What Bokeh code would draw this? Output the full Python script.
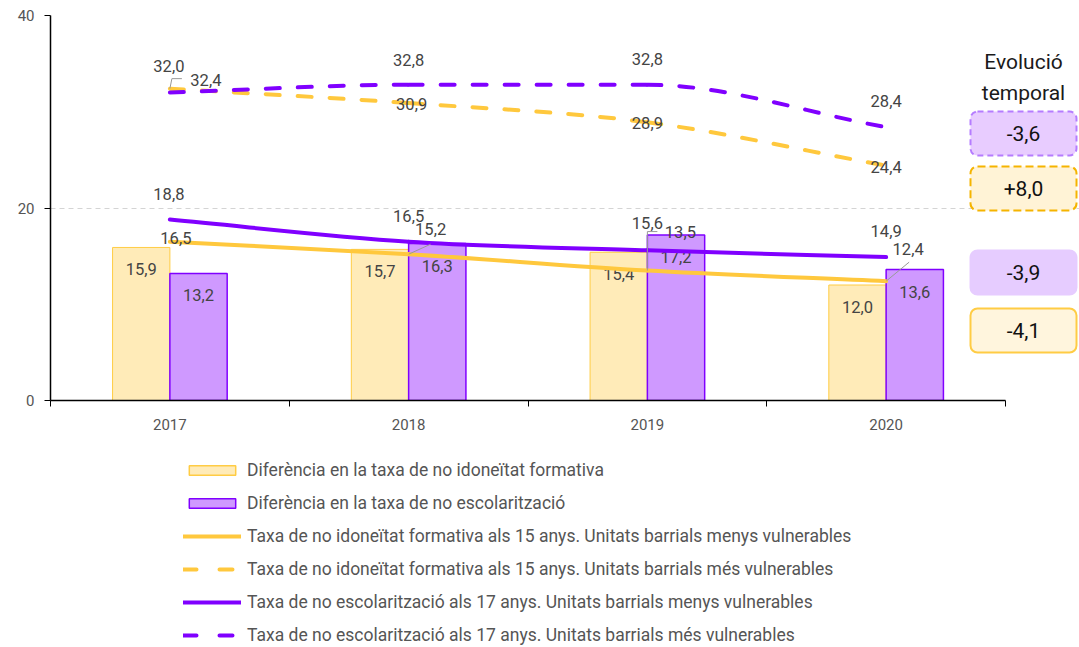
import math
from bokeh.plotting import figure
from bokeh.models import (Range1d, FixedTicker, ColumnDataSource, Legend, LegendItem)
from bokeh.layouts import column
from bokeh.core.properties import value
from bokeh.embed import file_html
from bokeh.resources import INLINE

# ---------------- data ----------------
years = ["2017", "2018", "2019", "2020"]
dif_idoneitat = [15.9, 15.7, 15.4, 12.0]
dif_escolaritzacio = [13.2, 16.3, 17.2, 13.6]
idon_menys = [16.5, 15.2, 13.5, 12.4]
idon_mes = [32.4, 30.9, 28.9, 24.4]
escol_menys = [18.8, 16.5, 15.6, 14.9]
escol_mes = [32.0, 32.8, 32.8, 28.4]
evolucio = ["-3,6", "+8,0", "-3,9", "-4,1"]   # escol_mes, idon_mes, escol_menys, idon_menys
legend_labels = [
    "Diferència en la taxa de no idoneïtat formativa",
    "Diferència en la taxa de no escolarització",
    "Taxa de no idoneïtat formativa als 15 anys. Unitats barrials menys vulnerables",
    "Taxa de no idoneïtat formativa als 15 anys. Unitats barrials més vulnerables",
    "Taxa de no escolarització als 17 anys. Unitats barrials menys vulnerables",
    "Taxa de no escolarització als 17 anys. Unitats barrials més vulnerables",
]

# ---------------- style ----------------
YEL_LINE = "#FFC83D"
YEL_FILL = "#FFEBB8"
YEL_EDGE = "#FFCC44"
PUR_LINE = "#8000FF"
PUR_FILL = "#CF99FF"
LABEL_C = "#444444"
FONT = "Roboto"

W = 1079
frame_left_px, axis_end_px, frame_right_px = 50, 1005, 1079  # canvas px
XMAX = 4 * (frame_right_px - frame_left_px) / (axis_end_px - frame_left_px)
PX = (axis_end_px - frame_left_px) / 4.0  # px per x unit
YPX = 385 / 40.0  # px per y unit

xc = [i + 0.5 for i in range(len(years))]
BW = 0.24


def fmt(v):
    return f"{v:.1f}".replace(".", ",")


p = figure(width=W, height=445, output_backend="svg", toolbar_location=None,
           x_range=Range1d(0, XMAX), y_range=Range1d(0, 40),
           min_border_left=50, min_border_right=0, min_border_top=15, min_border_bottom=45)
p.outline_line_color = None
p.background_fill_color = "white"

# axes
p.xaxis.ticker = FixedTicker(ticks=xc, minor_ticks=[0, 1, 2, 3, 4])
p.xaxis.major_label_overrides = {x: y for x, y in zip(xc, years)}
p.xaxis.bounds = (0, 4)
p.xaxis.major_tick_out = 0
p.xaxis.major_tick_in = 0
p.xaxis.minor_tick_out = 6
p.xaxis.minor_tick_in = 0
p.xaxis.minor_tick_line_color = "black"
p.xaxis.axis_line_color = "black"
p.xaxis.axis_line_width = 1.5
p.xaxis.major_label_standoff = 12
p.xaxis.major_label_text_font = FONT
p.xaxis.major_label_text_font_size = "15px"
p.xaxis.major_label_text_color = "#555555"

p.yaxis.ticker = FixedTicker(ticks=[0, 20, 40], minor_ticks=[])
p.yaxis.major_tick_out = 6
p.yaxis.major_tick_in = 0
p.yaxis.axis_line_color = "black"
p.yaxis.axis_line_width = 1.5
p.yaxis.major_tick_line_color = "black"
p.yaxis.major_label_standoff = 10
p.yaxis.major_label_text_font = FONT
p.yaxis.major_label_text_font_size = "15px"
p.yaxis.major_label_text_color = "#555555"

p.xgrid.visible = False
p.ygrid.ticker = FixedTicker(ticks=[20, 40])
p.ygrid.bounds = (0, 4)
p.ygrid.grid_line_color = "#d4d4d4"
p.ygrid.grid_line_dash = "5 4"
p.ygrid.grid_line_width = 1

# bars
p.vbar(x=[x - BW / 2 for x in xc], top=dif_idoneitat, width=BW, bottom=0,
       fill_color=YEL_FILL, line_color=YEL_EDGE, line_width=1)
p.vbar(x=[x + BW / 2 for x in xc], top=dif_escolaritzacio, width=BW, bottom=0,
       fill_color=PUR_FILL, line_color=PUR_LINE, line_width=1.5)

# bar labels
LBL = dict(text_align="center", text_baseline="middle", text_font=value(FONT),
           text_font_size="16.5px", text_color=LABEL_C)
p.text(x=[x - BW / 2 for x in xc], y=dif_idoneitat, text=[fmt(v) for v in dif_idoneitat],
       y_offset=22, **LBL)
p.text(x=[x + BW / 2 for x in xc], y=dif_escolaritzacio, text=[fmt(v) for v in dif_escolaritzacio],
       y_offset=22, **LBL)


def monotone(xs, ys):
    n = len(xs)
    d = [(ys[i + 1] - ys[i]) / (xs[i + 1] - xs[i]) for i in range(n - 1)]
    m = [0.0] * n
    m[0], m[-1] = d[0], d[-1]
    for i in range(1, n - 1):
        m[i] = 0.0 if d[i - 1] * d[i] <= 0 else (d[i - 1] + d[i]) / 2
    for i in range(n - 1):
        if d[i] == 0:
            m[i] = m[i + 1] = 0.0
            continue
        a, b = m[i] / d[i], m[i + 1] / d[i]
        s = a * a + b * b
        if s > 9:
            t = 3 / math.sqrt(s)
            m[i], m[i + 1] = t * a * d[i], t * b * d[i]
    src = dict(x0=[], y0=[], x1=[], y1=[], cx0=[], cy0=[], cx1=[], cy1=[])
    for i in range(n - 1):
        dx = xs[i + 1] - xs[i]
        src["x0"].append(xs[i]); src["y0"].append(ys[i])
        src["x1"].append(xs[i + 1]); src["y1"].append(ys[i + 1])
        src["cx0"].append(xs[i] + dx / 3); src["cy0"].append(ys[i] + m[i] * dx / 3)
        src["cx1"].append(xs[i + 1] - dx / 3); src["cy1"].append(ys[i + 1] - m[i + 1] * dx / 3)
    return ColumnDataSource(src)


def curve(ys, color, dash):
    kw = dict(line_color=color, line_width=4, line_cap="round")
    if dash:
        kw["line_dash"] = "14 18"
    p.bezier(x0="x0", y0="y0", x1="x1", y1="y1", cx0="cx0", cy0="cy0",
             cx1="cx1", cy1="cy1", source=monotone(xc, ys), **kw)


curve(idon_mes, YEL_LINE, True)
curve(escol_mes, PUR_LINE, True)
curve(idon_menys, YEL_LINE, False)
curve(escol_menys, PUR_LINE, False)

# line labels (pixel nudges relative to each point)
label_nudges = {
    "idon_mes": [(36, -9), (3, 1), (0, 1), (0, 1)],
    "escol_mes": [(-1, -27), (0, -25), (0, -26), (0, -26)],
    "escol_menys": [(-1, -26), (0, -26), (0, -27), (0, -26)],
    "idon_menys": [(6, -4), (22, -25), (33, -39), (22, -32)],
}
series = {"idon_mes": idon_mes, "escol_mes": escol_mes,
          "escol_menys": escol_menys, "idon_menys": idon_menys}
for key, ys in series.items():
    nud = label_nudges[key]
    p.text(x=xc, y=ys, text=[fmt(v) for v in ys],
           x_offset=[n[0] for n in nud], y_offset=[n[1] for n in nud], **LBL)

# leader lines for displaced labels (from the point toward the label)
lead_x0, lead_y0, lead_x1, lead_y1 = [], [], [], []
i = 0
lead_x0 += [xc[i], xc[i] + 2 / PX]
lead_y0 += [idon_mes[i], idon_mes[i] + 10 / YPX]
lead_x1 += [xc[i] + 2 / PX, xc[i] + 12 / PX]
lead_y1 += [idon_mes[i] + 10 / YPX, idon_mes[i] + 10 / YPX]
i = 1
lead_x0 += [xc[i]]; lead_y0 += [idon_menys[i]]
lead_x1 += [xc[i] + 22 / PX]; lead_y1 += [idon_menys[i] + 10 / YPX]
i = 2
lead_x0 += [xc[i], xc[i]]
lead_y0 += [idon_menys[i], idon_menys[i] + 39 / YPX]
lead_x1 += [xc[i], xc[i] + 10 / PX]
lead_y1 += [idon_menys[i] + 39 / YPX, idon_menys[i] + 39 / YPX]
i = 3
lead_x0 += [xc[i]]; lead_y0 += [idon_menys[i]]
lead_x1 += [xc[i] + 23 / PX]; lead_y1 += [idon_menys[i] + 19 / YPX]
p.segment(x0=lead_x0, y0=lead_y0, x1=lead_x1, y1=lead_y1, line_color="#999999", line_width=1)

# "Evolució temporal" panel
bx = 4 + 18 / PX
p.text(x=[bx], y=[40 - 62 / YPX], text=["Evolució\ntemporal"], text_align="center",
       text_baseline="middle", text_font=value(FONT), text_font_size="21px",
       text_color="#1a1a1a", text_line_height=1.3)
box_y = [40 - 118 / YPX, 40 - 173 / YPX, 40 - 257 / YPX, 40 - 315 / YPX]
box_fill = ["#E8CCFF", "#FFF3D6", "#E6CCFF", "#FFF5DD"]
box_line = ["#B57CFF", "#F5B400", "#E6CCFF", "#FFCC44"]
box_dash = ["6 4", "8 4", "solid", "solid"]
for yv, fc, lc, dsh in zip(box_y, box_fill, box_line, box_dash):
    p.rect(x=[bx], y=[yv], width=106, height=44, width_units="screen", height_units="screen",
           fill_color=fc, line_color=lc, line_width=2, line_dash=dsh, border_radius=7)
p.text(x=[bx] * 4, y=box_y, text=evolucio, text_align="center", text_baseline="middle",
       text_font=value(FONT), text_font_size="21px", text_color="#111111")

# ---------------- legend figure ----------------
LH = 202
lg = figure(width=W, height=LH, output_backend="svg", toolbar_location=None,
            x_axis_type=None, y_axis_type=None, x_range=Range1d(0, 1), y_range=Range1d(0, 1),
            min_border=0)
lg.outline_line_color = None
lg.xgrid.visible = False
lg.ygrid.visible = False
ox, oy = [-10, -9], [-10, -10]
r1 = lg.rect(x=ox, y=oy, width=1, height=1, fill_color=YEL_FILL, line_color=YEL_EDGE, line_width=1.5)
r2 = lg.rect(x=ox, y=oy, width=1, height=1, fill_color=PUR_FILL, line_color=PUR_LINE, line_width=1.5)
r3 = lg.line(x=ox, y=oy, line_color=YEL_LINE, line_width=4, line_cap="round")
r4 = lg.line(x=ox, y=oy, line_color=YEL_LINE, line_width=4, line_cap="round", line_dash="13 23")
r5 = lg.line(x=ox, y=oy, line_color=PUR_LINE, line_width=4, line_cap="round")
r6 = lg.line(x=ox, y=oy, line_color=PUR_LINE, line_width=4, line_cap="round", line_dash="13 23")
items = [LegendItem(label=l, renderers=[r]) for l, r in zip(legend_labels, [r1, r2, r3, r4, r5, r6])]
legend = Legend(items=items, location=(133, 2), orientation="vertical",
                glyph_width=58, glyph_height=12, label_height=20, spacing=13,
                label_standoff=6, padding=0, margin=0,
                border_line_color=None, background_fill_alpha=0,
                label_text_font=FONT, label_text_font_size="17.5px",
                label_text_color="#555555")
lg.add_layout(legend, "center")

layout = column(p, lg, spacing=0)
open("out.html", "w").write(file_html(layout, INLINE))
